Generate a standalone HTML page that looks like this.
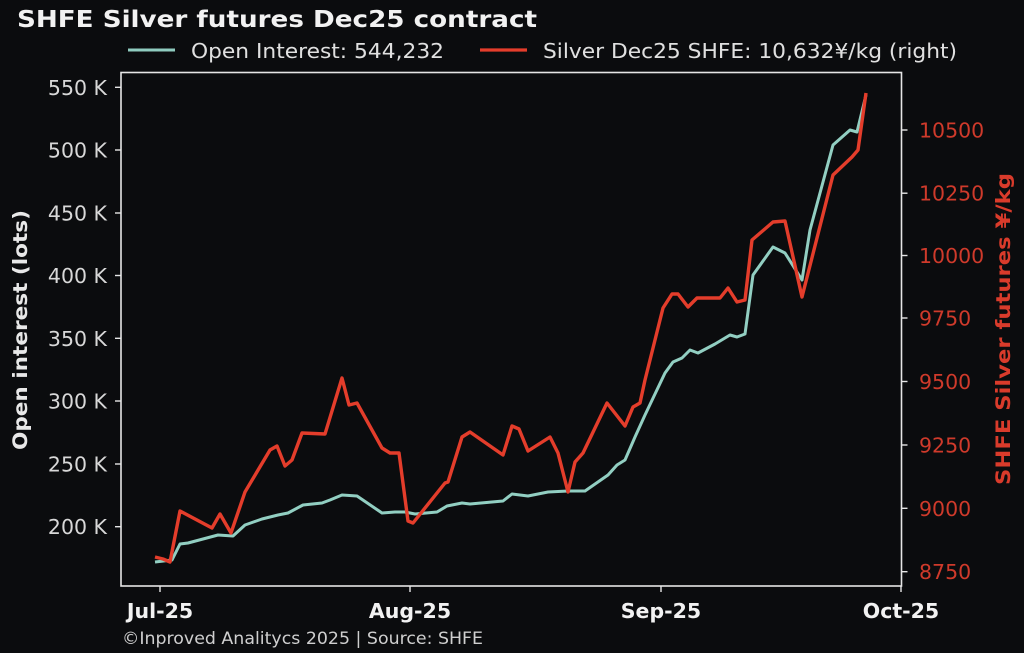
<!DOCTYPE html>
<html><head><meta charset="utf-8"><style>
html,body{margin:0;padding:0;background:#0b0c0e;}
svg{display:block;}
text{font-family:"DejaVu Sans","Liberation Sans",sans-serif;}
</style></head><body>
<svg width="1024" height="653" viewBox="0 0 1024 653" xmlns="http://www.w3.org/2000/svg">
<rect x="0" y="0" width="1024" height="653" fill="#0b0c0e"/>
<text x="17" y="27" font-size="23" font-weight="bold" fill="#f2f2f2" textLength="520" lengthAdjust="spacingAndGlyphs">SHFE Silver futures Dec25 contract</text>
<line x1="128" y1="50" x2="175" y2="50" stroke="#8fcbbf" stroke-width="3"/>
<text x="191" y="58" font-size="20" fill="#e0e0e0" textLength="253" lengthAdjust="spacingAndGlyphs">Open Interest: 544,232</text>
<line x1="480" y1="50" x2="527" y2="50" stroke="#e43d2b" stroke-width="3.2"/>
<text x="543" y="58" font-size="20" fill="#e0e0e0" textLength="414" lengthAdjust="spacingAndGlyphs">Silver Dec25 SHFE: 10,632¥/kg (right)</text>
<rect x="121" y="72.5" width="780.5" height="513.5" fill="#0b0c0e" stroke="#e6e6e6" stroke-width="1.6"/>
<g stroke="#e6e6e6" stroke-width="1.4">
<line x1="115" y1="87.3" x2="121" y2="87.3"/><line x1="115" y1="150" x2="121" y2="150"/><line x1="115" y1="213" x2="121" y2="213"/><line x1="115" y1="275.5" x2="121" y2="275.5"/><line x1="115" y1="338.3" x2="121" y2="338.3"/><line x1="115" y1="401" x2="121" y2="401"/><line x1="115" y1="464" x2="121" y2="464"/><line x1="115" y1="526.7" x2="121" y2="526.7"/>
<line x1="901.5" y1="130" x2="907.5" y2="130"/><line x1="901.5" y1="193.2" x2="907.5" y2="193.2"/><line x1="901.5" y1="255.5" x2="907.5" y2="255.5"/><line x1="901.5" y1="318" x2="907.5" y2="318"/><line x1="901.5" y1="381.5" x2="907.5" y2="381.5"/><line x1="901.5" y1="445" x2="907.5" y2="445"/><line x1="901.5" y1="508.3" x2="907.5" y2="508.3"/><line x1="901.5" y1="571.7" x2="907.5" y2="571.7"/>
<line x1="160" y1="586" x2="160" y2="592"/><line x1="410" y1="586" x2="410" y2="592"/><line x1="661" y1="586" x2="661" y2="592"/><line x1="901" y1="586" x2="901" y2="592"/>
</g>
<g font-size="20.5" fill="#d8d8d8" text-anchor="end">
<text x="107" y="94.8">550 K</text><text x="107" y="157.5">500 K</text><text x="107" y="220.5">450 K</text><text x="107" y="283">400 K</text><text x="107" y="345.8">350 K</text><text x="107" y="408.5">300 K</text><text x="107" y="471.5">250 K</text><text x="107" y="534.2">200 K</text>
</g>
<g font-size="20.5" fill="#cf3a2b">
<text x="919" y="137.5">10500</text><text x="919" y="200.7">10250</text><text x="919" y="263">10000</text><text x="919" y="325.5">9750</text><text x="919" y="389">9500</text><text x="919" y="452.5">9250</text><text x="919" y="515.8">9000</text><text x="919" y="579.2">8750</text>
</g>
<g font-size="20.5" font-weight="bold" fill="#f2f2f2" text-anchor="middle">
<text x="160" y="618">Jul-25</text><text x="410" y="618">Aug-25</text><text x="661" y="618">Sep-25</text><text x="901" y="618">Oct-25</text>
</g>
<text x="122" y="644" font-size="16.5" fill="#cfcfcf" textLength="361" lengthAdjust="spacingAndGlyphs">©Inproved Analitycs 2025 | Source: SHFE</text>
<text transform="translate(27,330) rotate(-90)" font-size="19.5" font-weight="bold" fill="#e8e8e8" text-anchor="middle" textLength="240" lengthAdjust="spacingAndGlyphs">Open interest (lots)</text>
<text transform="translate(1010,329) rotate(-90)" font-size="19.5" font-weight="bold" fill="#d93b2b" text-anchor="middle" textLength="312" lengthAdjust="spacingAndGlyphs">SHFE Silver futures ¥/kg</text>
<polyline fill="none" stroke="#92cfc2" stroke-width="3" stroke-linejoin="round" points="155,562 172,560 180,544 188,543 218,535 233,536 245,525 262,519 278,515 288,513 303,505 322,503 330,500 342,495 357,496 382,513 395,512 405,512 415,514 437,512 447,506 462,503 470,504 503,501 512,494 528,496 548,492 568,491 585,491 608,475 617,465 625,460 635,437 645,415 665,373 673,362 682,358 690,350 698,353 715,344 730,335 737,337 745,334 753,275 773,247 785,253 802,280 810,230 833,145 850,130 857,132 866,95"/>
<polyline fill="none" stroke="#e43d2b" stroke-width="3.4" stroke-linejoin="round" points="155,557 163,559 170,562 180,511 212,528 220,514 231,533 245,492 270,450 277,446 285,466 292,460 302,433 325,434 342,378 349,405 357,403 382,448 390,453 399,453 408,521 413,523 445,483 448,482 462,437 470,432 503,455 512,426 519,429 528,451 550,437 558,453 568,492 575,462 583,453 607,403 625,426 633,407 640,403 645,380 663,308 672,294 678,294 688,307 697,298 720,298 728,288 737,302 745,300 752,240 773,222 785,221 802,297 833,175 852,157 858,150 866,93"/>
</svg>
</body></html>
